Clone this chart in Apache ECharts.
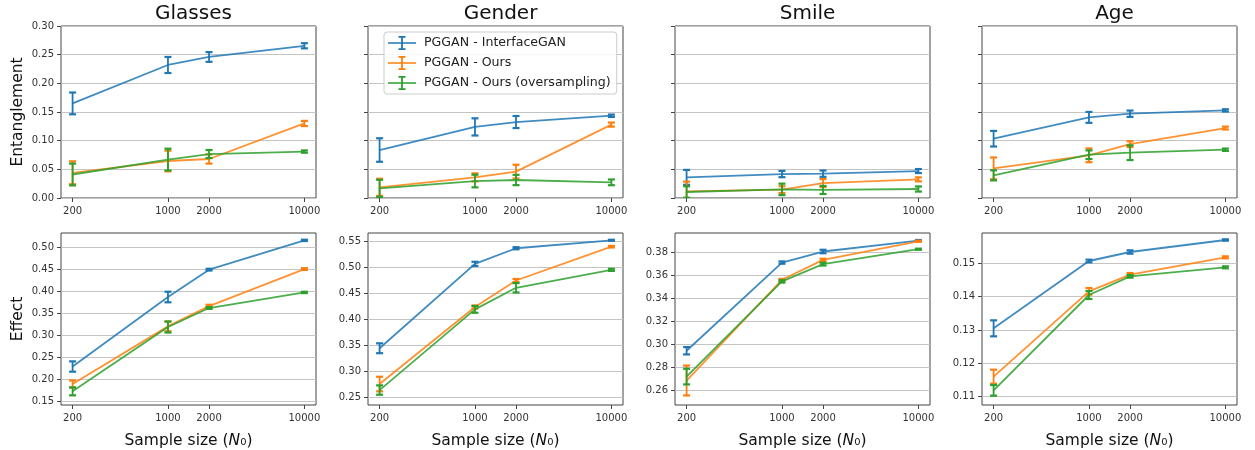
<!DOCTYPE html>
<html>
<head>
<meta charset="utf-8">
<script src="https://cdn.jsdelivr.net/npm/echarts@6/dist/echarts.min.js"></script>
<style>
  html, body { margin: 0; padding: 0; background: #fff; }
  #chart { width: 1255px; height: 450px; }
</style>
</head>
<body>
<div id="chart"></div>
<script>
// sample sizes on the (log) x axis
const sizes = [200, 1000, 2000, 10000]
const methods = ['PGGAN - InterfaceGAN', 'PGGAN - Ours', 'PGGAN - Ours (oversampling)']
const attrs = ['Glasses', 'Gender', 'Smile', 'Age']
const colors = ['#1f77b4', '#ff7f0e', '#2ca02c']

// entanglement (top row): rows = methods, cols = sizes
const entGlasses = [[0.165, 0.232, 0.246, 0.2655], [0.044, 0.0645, 0.068, 0.130], [0.041, 0.067, 0.0767, 0.081]]
const entGlassesErr = [[0.019, 0.014, 0.0085, 0.0045], [0.02, 0.018, 0.008, 0.0045], [0.019, 0.019, 0.007, 0.002]]
const entGender = [[0.0837, 0.124, 0.1325, 0.1435], [0.0186, 0.036, 0.046, 0.128], [0.0168, 0.0296, 0.0314, 0.0273]]
const entGenderErr = [[0.0205, 0.015, 0.0105, 0.002], [0.015, 0.007, 0.012, 0.0035], [0.015, 0.011, 0.009, 0.005]]
const entSmile = [[0.036, 0.0418, 0.0424, 0.047], [0.0116, 0.0145, 0.026, 0.0325], [0.0105, 0.015, 0.014, 0.0157]]
const entSmileErr = [[0.013, 0.0055, 0.0055, 0.0035], [0.017, 0.006, 0.007, 0.0035], [0.01, 0.01, 0.007, 0.0045]]
const entAge = [[0.1034, 0.1406, 0.147, 0.1528], [0.0517, 0.0744, 0.094, 0.122], [0.0395, 0.0755, 0.079, 0.0842]]
const entAgeErr = [[0.0136, 0.0095, 0.0055, 0.002], [0.019, 0.012, 0.005, 0.0025], [0.0088, 0.0075, 0.0128, 0.002]]

// effect (bottom row)
const effGlasses = [[0.229, 0.3866, 0.4486, 0.515], [0.1893, 0.320, 0.366, 0.450], [0.1727, 0.3186, 0.3616, 0.397]]
const effGlassesErr = [[0.0117, 0.012, 0.002, 0.0015], [0.008, 0.011, 0.003, 0.002], [0.009, 0.0125, 0.002, 0.0015]]
const effGender = [[0.3438, 0.506, 0.536, 0.5513], [0.275, 0.423, 0.474, 0.539], [0.2634, 0.4185, 0.46, 0.4945]]
const effGenderErr = [[0.0095, 0.004, 0.002, 0.001], [0.014, 0.003, 0.003, 0.0015], [0.009, 0.0065, 0.009, 0.002]]
const effSmile = [[0.2946, 0.3713, 0.3809, 0.3904], [0.2687, 0.3563, 0.3736, 0.3898], [0.2721, 0.3549, 0.3699, 0.3829]]
const effSmileErr = [[0.0032, 0.001, 0.0015, 0.0005], [0.013, 0.0008, 0.001, 0.0005], [0.0068, 0.001, 0.0012, 0.0005]]
const effAge = [[0.1305, 0.1507, 0.1534, 0.157], [0.116, 0.1416, 0.1466, 0.1518], [0.1119, 0.1405, 0.1461, 0.1488]]
const effAgeErr = [[0.0024, 0.0004, 0.0005, 0.0002], [0.0021, 0.001, 0.0005, 0.0003], [0.0016, 0.0012, 0.0004, 0.0003]]

// tick labels
const xTicks = [200, 1000, 2000, 10000]
const entTicks = [0, 0.05, 0.10, 0.15, 0.20, 0.25, 0.30]
const effTicks = [
  [0.15, 0.20, 0.25, 0.30, 0.35, 0.40, 0.45, 0.50],
  [0.25, 0.30, 0.35, 0.40, 0.45, 0.50, 0.55],
  [0.26, 0.28, 0.30, 0.32, 0.34, 0.36, 0.38],
  [0.11, 0.12, 0.13, 0.14, 0.15]
]
const entRange = [0, 0.30]
const effRanges = [[0.1418, 0.5317], [0.2347, 0.5653], [0.2474, 0.397], [0.1075, 0.1591]]

const panels = [
  [entGlasses, entGlassesErr], [entGender, entGenderErr], [entSmile, entSmileErr], [entAge, entAgeErr],
  [effGlasses, effGlassesErr], [effGender, effGenderErr], [effSmile, effSmileErr], [effAge, effAgeErr]
]

const FONT = 'DejaVu Sans'
const lefts = [61, 368, 675, 982]
const W = 255
const H = 172
const tops = [26, 233]

// matplotlib-ish 5% margins on a log axis
const lo = Math.log10(sizes[0])
const hi = Math.log10(sizes[sizes.length - 1])
const pad = (hi - lo) * 0.05
const xMin = Math.pow(10, lo - pad)
const xMax = Math.pow(10, hi + pad)

const errIcon = 'path://M0,6.2h28v1.6h-28z M13.1,0h1.8v14h-1.8z M10.5,0h7v1.8h-7z M10.5,12.2h7v1.8h-7z'

function renderErr(params, api) {
  const x = api.value(0)
  const p1 = api.coord([x, api.value(1)])
  const p2 = api.coord([x, api.value(2)])
  const c = api.visual('color')
  const style = { stroke: c, lineWidth: 1.8 }
  const cap = 3.5
  return {
    type: 'group',
    children: [
      { type: 'line', shape: { x1: p1[0], y1: p1[1], x2: p2[0], y2: p2[1] }, style },
      { type: 'line', shape: { x1: p1[0] - cap, y1: p1[1], x2: p1[0] + cap, y2: p1[1] }, style: { stroke: c, lineWidth: 2.2 } },
      { type: 'line', shape: { x1: p2[0] - cap, y1: p2[1], x2: p2[0] + cap, y2: p2[1] }, style: { stroke: c, lineWidth: 2.2 } }
    ]
  }
}

const grid = []
const xAxis = []
const yAxis = []
const series = []

for (let p = 0; p < 8; p++) {
  const row = p < 4 ? 0 : 1
  const col = p % 4
  grid.push({
    left: lefts[col], top: tops[row], width: W, height: H,
    show: true, borderColor: '#444', borderWidth: 1, backgroundColor: 'transparent'
  })
  xAxis.push({
    type: 'log', logBase: 10, gridIndex: p, min: xMin, max: xMax,
    axisLine: { show: false },
    axisTick: { show: true, length: 4, customValues: xTicks, lineStyle: { color: '#444' } },
    axisLabel: { customValues: xTicks, fontFamily: FONT, fontSize: 10, color: '#333', margin: 8,
      formatter: v => String(Math.round(v)) },
    splitLine: { show: false },
    minorTick: { show: false },
    name: row === 1 ? '{a|Sample size (}{i|N}{a|₀)}' : '',
    nameLocation: 'middle', nameGap: 28,
    nameTextStyle: {
      rich: {
        a: { fontFamily: FONT, fontSize: 15.5, color: '#111' },
        i: { fontFamily: FONT, fontSize: 15.5, fontStyle: 'italic', color: '#111' }
      }
    }
  })
  const ticks = row === 0 ? entTicks : effTicks[col]
  const range = row === 0 ? entRange : effRanges[col]
  yAxis.push({
    type: 'value', gridIndex: p, min: range[0], max: range[1],
    axisLine: { show: false },
    axisTick: { show: true, length: 4, customValues: ticks, lineStyle: { color: '#444' } },
    axisLabel: { show: row === 1 || col === 0, customValues: ticks, fontFamily: FONT, fontSize: 10, color: '#333', margin: 7,
      formatter: v => v.toFixed(2) },
    splitLine: { show: true, lineStyle: { color: '#c4c4c4', width: 1 } },
    name: col === 0 ? (row === 0 ? 'Entanglement' : 'Effect') : '',
    nameLocation: 'middle', nameGap: 35,
    nameTextStyle: { fontFamily: FONT, fontSize: 15.5, color: '#111' }
  })
  const means = panels[p][0]
  const errs = panels[p][1]
  for (let m = 0; m < 3; m++) {
    series.push({
      type: 'line', name: methods[m], xAxisIndex: p, yAxisIndex: p,
      data: sizes.map((s, i) => [s, means[m][i]]),
      symbol: 'none',
      lineStyle: { width: 1.8, color: colors[m], opacity: 0.85 },
      itemStyle: { color: colors[m] },
      z: 2 + m
    })
    series.push({
      type: 'custom', name: methods[m], xAxisIndex: p, yAxisIndex: p,
      data: sizes.map((s, i) => [s, means[m][i] - errs[m][i], means[m][i] + errs[m][i]]),
      encode: { x: 0, y: [1, 2] },
      renderItem: renderErr,
      itemStyle: { color: colors[m] },
      clip: true,
      z: 2 + m
    })
  }
}

const chart = echarts.init(document.getElementById('chart'))
chart.setOption({
  animation: false,
  backgroundColor: '#fff',
  title: attrs.map((t, i) => ({
    text: t, left: lefts[i] + W / 2, top: -1, textAlign: 'center',
    textStyle: { fontFamily: FONT, fontSize: 20, fontWeight: 'normal', color: '#111' }
  })),
  legend: {
    orient: 'vertical', left: 384, top: 32,
    itemWidth: 28, itemHeight: 14, itemGap: 6,
    padding: [4, 6, 4, 4],
    backgroundColor: 'rgba(255,255,255,0.85)', borderColor: '#ccc', borderWidth: 1, borderRadius: 3,
    textStyle: { fontFamily: FONT, fontSize: 12.6, color: '#222', padding: [0, 0, 0, 3] },
    data: methods.map(n => ({ name: n, icon: errIcon })),
    selectedMode: false
  },
  grid,
  xAxis,
  yAxis,
  series
})
</script>
</body>
</html>
